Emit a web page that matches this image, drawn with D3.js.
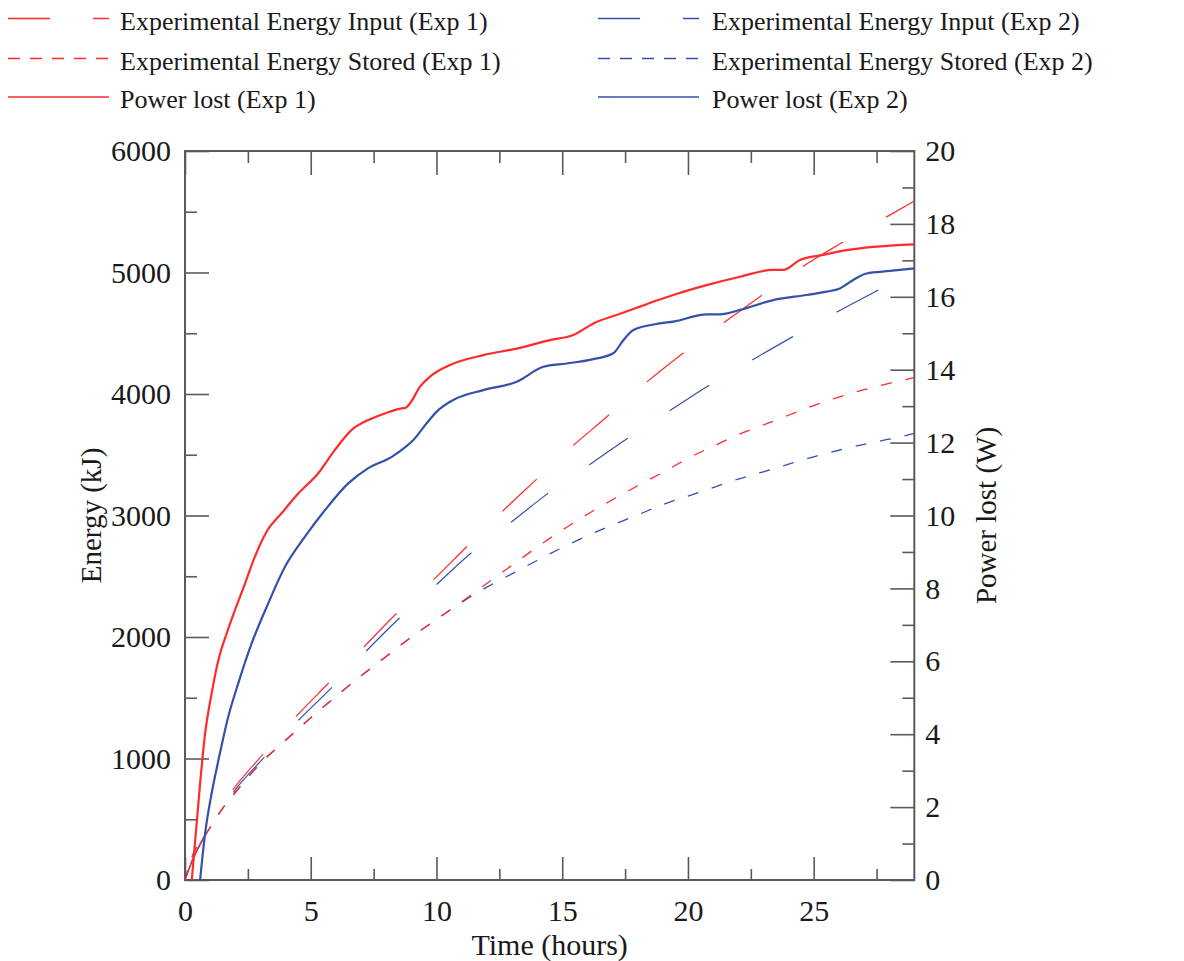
<!DOCTYPE html>
<html><head><meta charset="utf-8">
<script src="https://cdn.jsdelivr.net/npm/d3@7"></script>
<style>
html,body{margin:0;padding:0;background:#fff;}
text{font-family:"Liberation Serif","Times New Roman",serif;fill:#1a1a1a;}
</style></head>
<body><svg id="chart" width="1184" height="961"></svg>
<script>
// ---------- data ----------
const inputExp1T = [0,0.3,0.9,1.9,3.11,4.41,5.7,7.06,8.35,9.77,11.07,12.5,13.85,15.31,16.74,18.22,19.75,21.3,22.86,24.45,26.08,27.75,29];
const inputExp1E = [0,170,410,741,1037,1344,1619,1907,2181,2450,2716,3010,3273,3553,3807,4074,4327,4568,4801,5034,5240,5440,5588];
const inputExp2T = [0,0.3,0.9,1.92,3.11,4.5,5.83,7.22,8.52,9.94,11.33,12.88,14.38,16.0,17.56,19.22,20.81,22.5,24.12,25.87,27.57,29];
const inputExp2E = [0,160,400,722,1001,1311,1583,1887,2154,2420,2683,2930,3174,3407,3630,3855,4068,4274,4466,4669,4856,5010];

const storedT     = [0,0.3,0.9,1.5,2,3,4,5,6,7,8,9,10,11,12,13,14,15,16,17,18,19,20,21,22,23,24,25,26,27,28,29];
const storedExp1E = [0,200,400,590,720,960,1150,1335,1510,1680,1840,2000,2145,2290,2440,2590,2740,2880,3010,3130,3245,3355,3470,3570,3665,3745,3825,3905,3975,4035,4088,4135];
const storedExp2E = [0,200,400,590,720,960,1150,1335,1510,1680,1840,2000,2145,2285,2410,2520,2630,2735,2833,2922,3005,3090,3160,3230,3300,3360,3422,3483,3537,3586,3628,3675];

const powerExp1T = [0.27,0.6,0.8,1.06,1.33,1.66,1.99,2.39,2.78,3.25,3.84,4.51,5.3,5.96,6.63,7.29,7.95,8.62,8.75,8.95,9.34,9.74,10.54,11.86,13.19,14.51,15.44,16.24,17.16,18.09,18.82,19.42,20.74,22.07,23.39,23.79,24.45,25.38,26.31,27.37,29];
const powerExp1P = [0,2.65,4.02,5.12,6.04,6.77,7.41,8.14,8.87,9.56,10.06,10.61,11.16,11.80,12.35,12.62,12.80,12.94,12.95,13.08,13.53,13.81,14.13,14.40,14.58,14.81,14.95,15.27,15.50,15.73,15.91,16.05,16.32,16.55,16.74,16.74,17.01,17.15,17.28,17.37,17.44];
const powerExp2T = [0.6,0.8,1.06,1.33,1.72,2.12,2.65,3.31,3.98,4.77,5.57,6.49,7.29,8.22,8.62,9.08,9.61,10.01,10.67,11.86,13.19,14.25,15.18,16.24,17.03,17.43,17.83,18.89,19.42,20.74,21.27,22.07,23.39,24.72,25.51,26.04,26.57,27.1,28.03,29];
const powerExp2P = [0,1.28,2.38,3.29,4.48,5.40,6.49,7.59,8.60,9.42,10.15,10.88,11.30,11.61,11.80,12.07,12.53,12.85,13.17,13.44,13.67,14.08,14.17,14.29,14.45,14.81,15.09,15.27,15.32,15.52,15.52,15.64,15.91,16.05,16.14,16.23,16.46,16.64,16.71,16.78];

const xMajorTicks = [0,5,10,15,20,25];
const xMinorTicks = [2.5,7.5,12.5,17.5,22.5,27.5];
const eMajorTicks = [0,1000,2000,3000,4000,5000,6000];
const eMinorTicks = [500,1500,2500,3500,4500,5500];
const pMajorTicks = [0,2,4,6,8,10,12,14,16,18,20];
const pMinorTicks = [1,3,5,7,9,11,13,15,17,19];

const legendLabels = [
  "Experimental Energy Input (Exp 1)","Experimental Energy Stored (Exp 1)","Power lost (Exp 1)",
  "Experimental Energy Input (Exp 2)","Experimental Energy Stored (Exp 2)","Power lost (Exp 2)"
];

// ---------- setup ----------
const RED = "#ff2a2a", BLUE = "#3550ab", AXIS = "#5a5a5a";
const svg = d3.select("#chart");
const L = 185, R = 914.3, T = 151, B = 880;
const x  = d3.scaleLinear().domain([0,29]).range([L,R]);
const yE = d3.scaleLinear().domain([0,6000]).range([B,T]);
const yP = d3.scaleLinear().domain([0,20]).range([B,T]);

const zip = (a,b) => a.map((v,i)=>[v,b[i]]);
const lineE = d3.line().x(d=>x(d[0])).y(d=>yE(d[1])).curve(d3.curveMonotoneX);
const lineP = d3.line().x(d=>x(d[0])).y(d=>yP(d[1])).curve(d3.curveMonotoneX);

// ---------- axes ----------
function styleAxis(g){
  g.select(".domain").remove();
  g.selectAll(".tick line").attr("stroke",AXIS).attr("stroke-width",1.6);
  g.selectAll(".tick text").attr("font-size",30).attr("fill","#1a1a1a")
   .attr("font-family",'"Liberation Serif","Times New Roman",serif');
}
svg.append("g").attr("transform",`translate(0,${B})`)
  .call(d3.axisBottom(x).tickValues(xMajorTicks).tickSize(-23).tickPadding(20).tickFormat(d3.format("d"))).call(styleAxis);
svg.append("g").attr("transform",`translate(0,${B})`)
  .call(d3.axisBottom(x).tickValues(xMinorTicks).tickSize(-11).tickFormat("")).call(styleAxis);
svg.append("g").attr("transform",`translate(0,${T})`)
  .call(d3.axisTop(x).tickValues(xMajorTicks).tickSize(-24).tickFormat("")).call(styleAxis);
svg.append("g").attr("transform",`translate(0,${T})`)
  .call(d3.axisTop(x).tickValues(xMinorTicks).tickSize(-12).tickFormat("")).call(styleAxis);
svg.append("g").attr("transform",`translate(${L},0)`)
  .call(d3.axisLeft(yE).tickValues(eMajorTicks).tickSize(-24).tickPadding(14).tickFormat(d3.format("d"))).call(styleAxis);
svg.append("g").attr("transform",`translate(${L},0)`)
  .call(d3.axisLeft(yE).tickValues(eMinorTicks).tickSize(-12).tickFormat("")).call(styleAxis);
svg.append("g").attr("transform",`translate(${R},0)`)
  .call(d3.axisRight(yP).tickValues(pMajorTicks).tickSize(-24).tickPadding(11).tickFormat(d3.format("d"))).call(styleAxis);
svg.append("g").attr("transform",`translate(${R},0)`)
  .call(d3.axisRight(yP).tickValues(pMinorTicks).tickSize(-12).tickFormat("")).call(styleAxis);

svg.append("rect").attr("x",L).attr("y",T).attr("width",R-L).attr("height",B-T)
  .attr("fill","none").attr("stroke",AXIS).attr("stroke-width",2);

// ---------- titles ----------
svg.append("text").attr("x",(L+R)/2).attr("y",955).attr("text-anchor","middle")
  .attr("font-size",30).text("Time (hours)");
svg.append("text").attr("transform",`translate(101,${(T+B)/2}) rotate(-90)`).attr("text-anchor","middle")
  .attr("font-size",29).text("Energy (kJ)");
svg.append("text").attr("transform",`translate(996,${(T+B)/2}) rotate(-90)`).attr("text-anchor","middle")
  .attr("font-size",29).text("Power lost (W)");

// ---------- series ----------
const plot = svg.append("g");
function phaseOffset(path, tStart, period){
  const node = path.node(), total = node.getTotalLength(), tx = x(tStart);
  let lo = 0, hi = total;
  for(let i=0;i<40;i++){ const m=(lo+hi)/2; if(node.getPointAtLength(m).x < tx) lo=m; else hi=m; }
  return ((period - (lo % period)) % period);
}
function addSeries(data, gen, color, width, dash, tPhase){
  const p = plot.append("path").datum(data).attr("d",gen).attr("fill","none")
    .attr("stroke",color).attr("stroke-width",width).attr("stroke-linejoin","round");
  if(dash){
    p.attr("stroke-dasharray",dash.join(","));
    if(tPhase!=null) p.attr("stroke-dashoffset", phaseOffset(p,tPhase,dash[0]+dash[1]));
  }
  return p;
}
addSeries(zip(storedT,storedExp2E), lineE, BLUE, 1.3, [11,14], 3.98);
addSeries(zip(storedT,storedExp1E), lineE, RED, 1.3, [11,14], 3.98);
addSeries(zip(inputExp2T,inputExp2E), lineE, BLUE, 1.2, [47,50], 1.92);
addSeries(zip(inputExp1T,inputExp1E), lineE, RED, 1.2, [47,50], 1.9);
addSeries(zip(powerExp2T,powerExp2P), lineP, BLUE, 2.2, null);
addSeries(zip(powerExp1T,powerExp1P), lineP, RED, 2.2, null);

// ---------- legend ----------
const legendColors = [RED,RED,RED,BLUE,BLUE,BLUE];
const legendDash = [[42,43],[12,10],null,[42,43],[12,10],null];
const legendRowY = [18.5,58.5,97];
const lg = svg.append("g");
legendLabels.forEach((lab,i)=>{
  const col = Math.floor(i/3), row = i%3;
  const x0 = col===0 ? 8 : 598, tx = col===0 ? 120 : 712;
  const yy = legendRowY[row];
  const ln = lg.append("line").attr("x1",x0).attr("x2",x0+101).attr("y1",yy).attr("y2",yy)
    .attr("stroke",legendColors[i]).attr("stroke-width",1.3);
  if(legendDash[i]) ln.attr("stroke-dasharray",legendDash[i].join(","));
  lg.append("text").attr("x",tx).attr("y",yy+11).attr("font-size",26).text(lab);
});
</script></body></html>
